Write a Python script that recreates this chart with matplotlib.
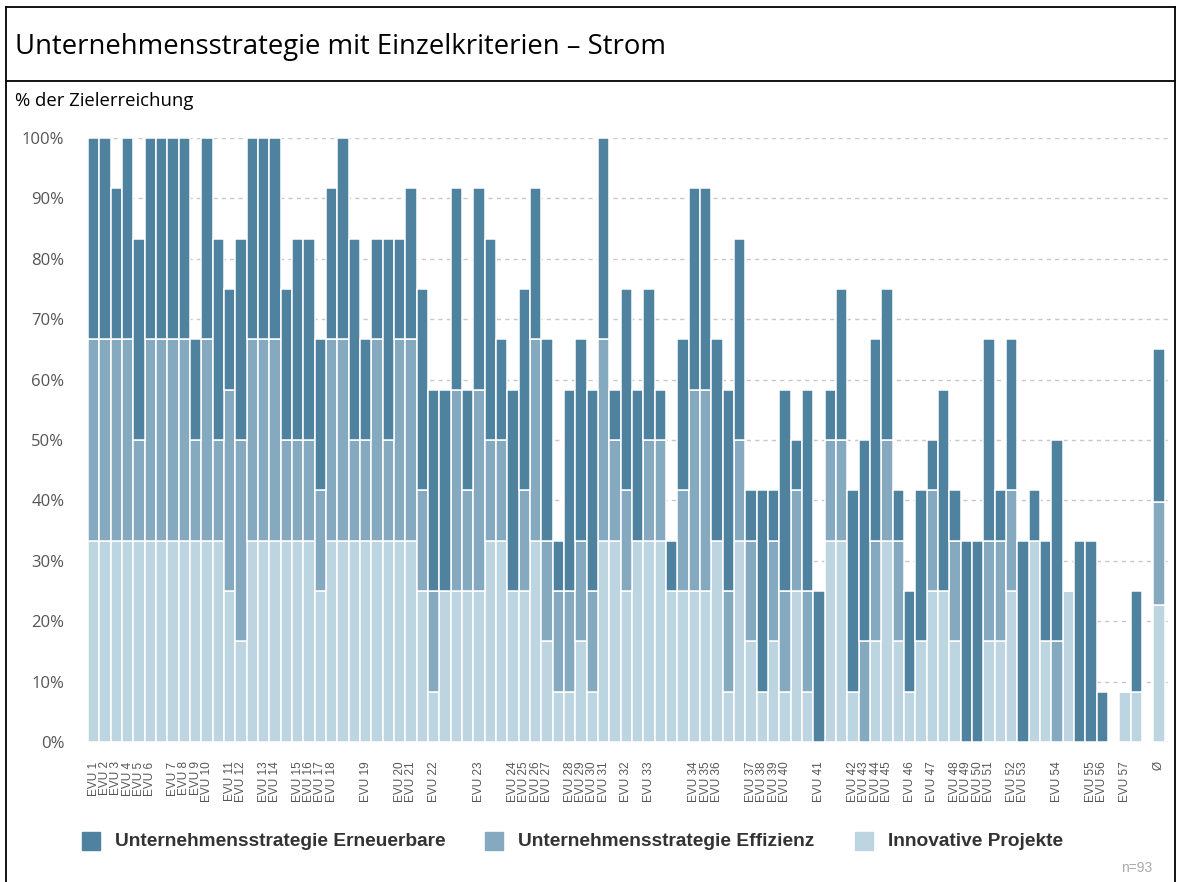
import matplotlib.pyplot as plt
from matplotlib.lines import Line2D
from matplotlib.patches import Rectangle

# values in twelfths of 100 % (each criterion max 4/12), bar by bar
innovative = [4, 4, 4, 4, 4, 4, 4, 4, 4, 4, 4, 4, 3, 2, 4, 4, 4, 4, 4, 4,
              3, 4, 4, 4, 4, 4, 4, 4, 4, 3, 1, 3, 3, 3, 3, 4, 4, 3, 3, 4,
              2, 1, 1, 2, 1, 4, 4, 3, 4, 4, 4, 3, 3, 3, 3, 4, 1, 4, 2, 1,
              2, 1, 3, 1, 0, 4, 4, 1, 0, 2, 4, 2, 1, 2, 3, 3, 2, 0, 0, 2,
              2, 3, 0, 4, 2, 0, 3, 0, 0, 0, 0, 1, 1, 0]
effizienz = [4, 4, 4, 4, 2, 4, 4, 4, 4, 2, 4, 2, 4, 4, 4, 4, 4, 2, 2, 2,
             2, 4, 4, 2, 2, 4, 2, 4, 4, 2, 2, 0, 4, 2, 4, 2, 2, 0, 2, 4,
             2, 2, 2, 2, 2, 4, 2, 2, 0, 2, 2, 0, 2, 4, 4, 0, 2, 2, 2, 0,
             2, 2, 2, 2, 0, 2, 2, 0, 2, 2, 2, 2, 0, 0, 2, 0, 2, 0, 0, 2,
             2, 2, 0, 0, 0, 2, 0, 0, 0, 0, 0, 0, 0, 0]
erneuerbare = [4, 4, 3, 4, 4, 4, 4, 4, 4, 2, 4, 4, 2, 4, 4, 4, 4, 3, 4, 4,
               3, 3, 4, 4, 2, 2, 4, 2, 3, 4, 4, 4, 4, 2, 4, 4, 2, 4, 4, 3,
               4, 1, 4, 4, 4, 4, 1, 4, 3, 3, 1, 1, 3, 4, 4, 4, 4, 4, 1, 4,
               1, 4, 1, 4, 3, 1, 3, 4, 4, 4, 3, 1, 2, 3, 1, 4, 1, 4, 4, 4,
               1, 3, 4, 1, 2, 4, 0, 4, 4, 1, 0, 0, 2, 0]

# average bar (percent)
avg_innovative = 22.6
avg_effizienz = 17.1
avg_erneuerbare = 25.3

# bar number (1-based) that carries the label "EVU k"; other bars are unnamed
evu_label_bars = [1, 2, 3, 4, 5, 6, 8, 9, 10, 11, 13, 14, 16, 17, 19, 20, 21, 22,
                  25, 28, 29, 31, 35, 38, 39, 40, 41, 43, 44, 45, 46, 48, 50,
                  54, 55, 56, 59, 60, 61, 62, 65, 68, 69, 70, 71, 73, 75, 77,
                  78, 79, 80, 82, 83, 86, 89, 90, 92]

series_names = ['Unternehmensstrategie Erneuerbare',
                'Unternehmensstrategie Effizienz',
                'Innovative Projekte']
colors = ['#4e829f', '#85a9be', '#bdd4e1']

# percent values, the average bar goes one slot after the last EVU
L = [v * 100 / 12 for v in innovative] + [avg_innovative]
M = [v * 100 / 12 for v in effizienz] + [avg_effizienz]
D = [v * 100 / 12 for v in erneuerbare] + [avg_erneuerbare]
x = list(range(len(innovative))) + [len(innovative)]

W, H = 1177, 882
fig = plt.figure(figsize=(W / 100, H / 100), dpi=100)
ax = fig.add_axes([88 / W, 1 - 742 / H, 1080 / W, 604 / H])

bottom2 = [a + b for a, b in zip(L, M)]
ax.bar(x, L, width=1.0, color=colors[2], edgecolor='white', linewidth=1.1)
ax.bar(x, M, width=1.0, bottom=L, color=colors[1], edgecolor='white', linewidth=1.1)
ax.bar(x, D, width=1.0, bottom=bottom2, color=colors[0], edgecolor='white', linewidth=1.1)

ax.set_xlim(-0.5, len(x) - 0.2)
ax.set_ylim(0, 100)
ax.set_axisbelow(True)
ax.set_yticks(range(0, 101, 10))
ax.set_yticklabels([f'{v}%' for v in range(0, 101, 10)], fontsize=12,
                   color='#555555', family='Open Sans')
ax.yaxis.grid(True, linestyle=(0, (3, 3)), color='#c8c8c8', linewidth=1)
ax.axhline(0, color='#c8c8c8', linewidth=1, zorder=0)

ticks = [b - 1 for b in evu_label_bars] + [x[-1]]
tick_labels = [f'EVU {i + 1}' for i in range(len(evu_label_bars))] + ['Ø']
ax.set_xticks(ticks)
ax.set_xticklabels(tick_labels, rotation=90, fontsize=8.5, color='#555555',
                   family='Liberation Sans', va='top')
ax.tick_params(axis='both', length=0)
ax.tick_params(axis='x', pad=14)
ax.tick_params(axis='y', pad=17)
for s in ax.spines.values():
    s.set_visible(False)

# frame and title band
def px(xp, yp):
    return xp / W, 1 - yp / H

for (x0, y0), (x1, y1) in [((6, 7), (1175, 7)), ((6, 81), (1175, 81)),
                           ((6, 7), (6, 882)), ((1175, 7), (1175, 882))]:
    a, b = px(x0, y0)
    c, d = px(x1, y1)
    fig.add_artist(Line2D([a, c], [b, d], color='black', linewidth=1.3,
                          transform=fig.transFigure))

fig.text(*px(15, 47), 'Unternehmensstrategie mit Einzelkriterien – Strom',
         fontsize=19.8, family='Open Sans', va='center', ha='left')
fig.text(*px(15, 101), '% der Zielerreichung', fontsize=13.3,
         family='Open Sans', va='center', ha='left')

# legend
leg_x = [82, 485, 855]
for lx, name, col in zip(leg_x, series_names, colors):
    fx, fy = px(lx, 850)
    fig.add_artist(Rectangle((fx, fy), 18 / W, 18 / H, color=col,
                             transform=fig.transFigure))
    fig.text(*px(lx + 33, 841), name, fontsize=13.8, fontweight='bold',
             family='Liberation Sans', color='#333333', va='center', ha='left')

fig.text(*px(1152, 868), 'n=93', fontsize=10, color='#aaaaaa',
         family='Liberation Sans', ha='right', va='center')

fig.savefig('out.png', dpi=100)
